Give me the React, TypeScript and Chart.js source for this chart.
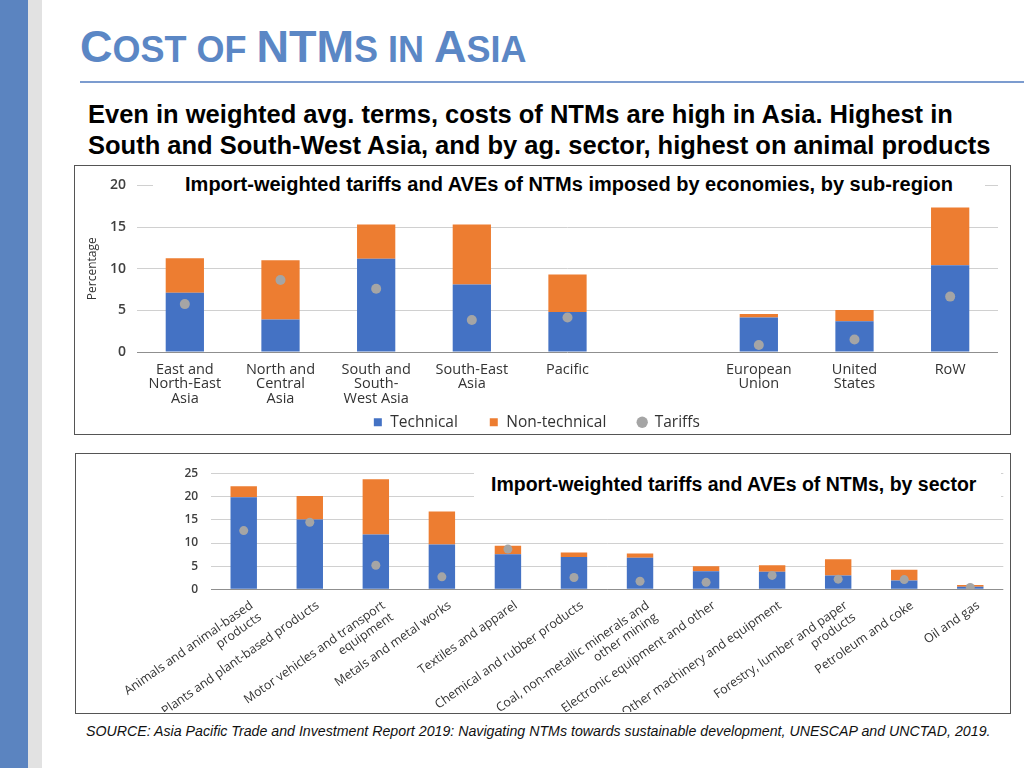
import React, { useEffect, useRef } from 'react';
import { Chart, registerables } from 'chart.js';

Chart.register(...registerables);

// ---------- Data: by sub-region ----------
const regionLabels: (string | string[])[] = [
  ['East and', 'North-East', 'Asia'],
  ['North and', 'Central', 'Asia'],
  ['South and', 'South-', 'West Asia'],
  ['South-East', 'Asia'],
  ['Pacific'],
  '',
  ['European', 'Union'],
  ['United', 'States'],
  ['RoW'],
];
const regionTechnical = [7.1, 3.9, 11.2, 8.1, 4.8, null, 4.15, 3.7, 10.4];
const regionNonTechnical = [4.15, 7.1, 4.1, 7.2, 4.5, null, 0.4, 1.35, 6.95];
const regionTariffs = [5.75, 8.65, 7.6, 3.85, 4.15, null, 0.85, 1.5, 6.65];
const regionTicks = { min: 0, max: 20, step: 5 };

// ---------- Data: by sector ----------
const sectorLabels: string[][] = [
  ['Animals and animal-based', 'products'],
  ['Plants and plant-based products'],
  ['Motor vehicles and transport', 'equipment'],
  ['Metals and metal works'],
  ['Textiles and apparel'],
  ['Chemical and rubber products'],
  ['Coal, non-metallic minerals and', 'other mining'],
  ['Electronic equipment and other'],
  ['Other machinery and equipment'],
  ['Forestry, lumber and paper', 'products'],
  ['Petroleum and coke'],
  ['Oil and gas'],
];
const sectorTechnical = [19.9, 15.1, 11.85, 9.7, 7.6, 7.0, 6.8, 3.9, 3.8, 3.0, 1.9, 0.55];
const sectorNonTechnical = [2.4, 5.1, 11.95, 7.1, 1.8, 0.95, 0.95, 1.1, 1.4, 3.5, 2.35, 0.4];
const sectorTariffs = [12.7, 14.5, 5.2, 2.7, 8.7, 2.55, 1.75, 1.5, 3.0, 2.2, 2.1, 0.4];
const sectorTicks = { min: 0, max: 25, step: 5 };

const BLUE = '#4472c4';
const ORANGE = '#ed7d31';
const GRAY = '#a5a5a5';
const SERIES = ['Technical', 'Non-technical', 'Tariffs'];

const CHART_FONT = '"Open Sans", "Noto Sans", sans-serif';

function buildDatasets(tech: (number | null)[], nontech: (number | null)[], tariffs: (number | null)[], radius: number) {
  return [
    { type: 'bar' as const, label: SERIES[0], data: tech, backgroundColor: BLUE, stack: 'ntm', order: 2 },
    { type: 'bar' as const, label: SERIES[1], data: nontech, backgroundColor: ORANGE, stack: 'ntm', order: 2 },
    {
      type: 'line' as const,
      label: SERIES[2],
      data: tariffs,
      showLine: false,
      pointRadius: radius,
      pointHoverRadius: radius,
      backgroundColor: GRAY,
      borderColor: GRAY,
      pointBorderWidth: 0,
      borderWidth: 0,
      stack: 'tariff',
      order: 1,
    },
  ];
}

const gridColor = (ctx: any) => (ctx.tick && ctx.tick.value === 0 ? '#8f8f8f' : '#d0d0d0');

// extra room after a legend entry (the legend's own padding is kept small)
const LEGEND_GAP = '      ';

export default function App() {
  const ref1 = useRef<HTMLCanvasElement | null>(null);
  const ref2 = useRef<HTMLCanvasElement | null>(null);

  useEffect(() => {
    if (!ref1.current || !ref2.current) return;

    const c1 = new Chart(ref1.current, {
      type: 'bar',
      data: {
        labels: regionLabels as any,
        datasets: buildDatasets(regionTechnical, regionNonTechnical, regionTariffs, 5) as any,
      },
      options: {
        animation: false,
        responsive: false,
        events: [],
        layout: { padding: { top: 19, right: 11, left: 0, bottom: 0 } },
        datasets: { bar: { barPercentage: 0.4, categoryPercentage: 1 } } as any,
        scales: {
          x: {
            stacked: true,
            grid: { display: false },
            border: { display: false },
            ticks: {
              autoSkip: false,
              maxRotation: 0,
              minRotation: 0,
              padding: 2.5,
              color: '#333',
              font: { family: CHART_FONT, size: 14.5, lineHeight: 1.0 },
            },
            afterFit: (s: any) => { s.height = 55.5; },
          },
          y: {
            stacked: true,
            min: regionTicks.min,
            max: regionTicks.max,
            ticks: {
              stepSize: regionTicks.step,
              padding: 11,
              color: '#404040',
              font: { family: CHART_FONT, size: 14, weight: 600 as any },
            },
            grid: { drawTicks: false, color: gridColor },
            border: { display: false },
            title: {
              display: true,
              text: 'Percentage',
              color: '#333',
              padding: { top: 10, bottom: 0 },
              font: { family: CHART_FONT, size: 12 },
            },
            afterFit: (s: any) => { s.width = 62; },
          },
        },
        plugins: {
          tooltip: { enabled: false },
          legend: {
            position: 'bottom',
            labels: {
              usePointStyle: true,
              boxWidth: 9.5,
              boxHeight: 8,
              padding: 7,
              color: '#333',
              font: { family: CHART_FONT, size: 15.5 },
              generateLabels: (chart: any) =>
                Chart.defaults.plugins.legend.labels
                  .generateLabels(chart)
                  .sort((a: any, b: any) => a.datasetIndex - b.datasetIndex)
                  .map((l: any, i: number) => ({
                    ...l,
                    text: i < 2 ? l.text + LEGEND_GAP : l.text,
                    pointStyle: i === 2 ? 'circle' : 'rect',
                    lineWidth: 0,
                  })),
            },
          },
        },
      },
    });

    const c2 = new Chart(ref2.current, {
      type: 'bar',
      data: {
        labels: sectorLabels as any,
        datasets: buildDatasets(sectorTechnical, sectorNonTechnical, sectorTariffs, 4.5) as any,
      },
      options: {
        animation: false,
        responsive: false,
        events: [],
        layout: { padding: { top: 11.7, right: 5.7, left: 0, bottom: 0 } },
        datasets: { bar: { barPercentage: 0.4, categoryPercentage: 1 } } as any,
        scales: {
          x: {
            stacked: true,
            grid: { display: false },
            border: { display: false },
            ticks: {
              autoSkip: false,
              maxRotation: 35,
              minRotation: 35,
              padding: 1,
              labelOffset: 8,
              color: '#333',
              font: { family: CHART_FONT, size: 12.5, lineHeight: 1.15 },
            },
            afterFit: (s: any) => { s.height = 122.7; },
          },
          y: {
            stacked: true,
            min: sectorTicks.min,
            max: sectorTicks.max,
            ticks: {
              stepSize: sectorTicks.step,
              padding: 12.5,
              color: '#404040',
              font: { family: CHART_FONT, size: 12, weight: 600 as any },
            },
            grid: { drawTicks: false, color: gridColor },
            border: { display: false },
            afterFit: (s: any) => { s.width = 134.7; },
          },
        },
        plugins: {
          tooltip: { enabled: false },
          legend: { display: false },
        },
      },
    });

    return () => {
      c1.destroy();
      c2.destroy();
    };
  }, []);

  const big = 45;
  const small = 36;

  return (
    <div
      style={{
        position: 'fixed',
        left: 0,
        top: 0,
        width: 1024,
        height: 768,
        background: '#fff',
        overflow: 'hidden',
        fontFamily: '"Liberation Sans", Arial, sans-serif',
      }}
    >
      {/* left decoration */}
      <div style={{ position: 'absolute', left: 0, top: 0, width: 28, height: 768, background: '#5b84c0' }} />
      <div style={{ position: 'absolute', left: 28, top: 0, width: 14, height: 768, background: '#e2e2e2' }} />

      {/* slide title */}
      <div
        style={{
          position: 'absolute',
          left: 80,
          top: 24,
          color: '#5b87c5',
          fontWeight: 'bold',
          whiteSpace: 'nowrap',
          fontSize: big,
          lineHeight: '45px',
        }}
      >
        <span style={{ fontSize: big }}>C</span>
        <span style={{ fontSize: small }}>OST OF </span>
        <span style={{ fontSize: big }}>NTM</span>
        <span style={{ fontSize: small }}>S IN </span>
        <span style={{ fontSize: big }}>A</span>
        <span style={{ fontSize: small }}>SIA</span>
      </div>
      <div style={{ position: 'absolute', left: 80, top: 81, width: 944, height: 2, background: '#7c9ccf' }} />

      {/* subtitle */}
      <div
        style={{
          position: 'absolute',
          left: 88,
          top: 99,
          color: '#000',
          fontWeight: 'bold',
          fontSize: 25.5,
          lineHeight: '31px',
          whiteSpace: 'nowrap',
        }}
      >
        <div>Even in weighted avg. terms, costs of NTMs are high in Asia. Highest in</div>
        <div>South and South-West Asia, and by ag. sector, highest on animal products</div>
      </div>

      {/* chart 1 */}
      <canvas
        ref={ref1}
        width={934}
        height={274}
        style={{ position: 'absolute', left: 75, top: 166, width: 934, height: 274 }}
      />
      <div
        style={{
          position: 'absolute',
          left: 153,
          top: 172,
          width: 832,
          height: 25,
          background: '#fff',
          textAlign: 'center',
          fontWeight: 'bold',
          fontSize: 20,
          lineHeight: '25px',
          color: '#000',
          whiteSpace: 'nowrap',
        }}
      >
        Import-weighted tariffs and AVEs of NTMs imposed by economies, by sub-region
      </div>
      <div
        style={{
          position: 'absolute',
          left: 74,
          top: 165,
          width: 935,
          height: 268,
          border: '1px solid #555',
          boxSizing: 'content-box',
          pointerEvents: 'none',
        }}
      />

      {/* chart 2 */}
      <canvas
        ref={ref2}
        width={933}
        height={258}
        style={{ position: 'absolute', left: 76, top: 454, width: 933, height: 258 }}
      />
      <div
        style={{
          position: 'absolute',
          left: 474,
          top: 471,
          width: 527,
          height: 26,
          background: '#fff',
          paddingLeft: 17,
          boxSizing: 'border-box',
          fontWeight: 'bold',
          fontSize: 19.5,
          lineHeight: '26px',
          color: '#000',
          whiteSpace: 'nowrap',
        }}
      >
        Import-weighted tariffs and AVEs of NTMs, by sector
      </div>
      <div
        style={{
          position: 'absolute',
          left: 75,
          top: 453,
          width: 934,
          height: 259,
          border: '1px solid #555',
          boxSizing: 'content-box',
          pointerEvents: 'none',
        }}
      />

      {/* source */}
      <div
        style={{
          position: 'absolute',
          left: 86,
          top: 722,
          fontStyle: 'italic',
          fontSize: 14.2,
          lineHeight: '18px',
          color: '#111',
          whiteSpace: 'nowrap',
        }}
      >
        SOURCE: Asia Pacific Trade and Investment Report 2019: Navigating NTMs towards sustainable development, UNESCAP and UNCTAD, 2019.
      </div>
    </div>
  );
}
